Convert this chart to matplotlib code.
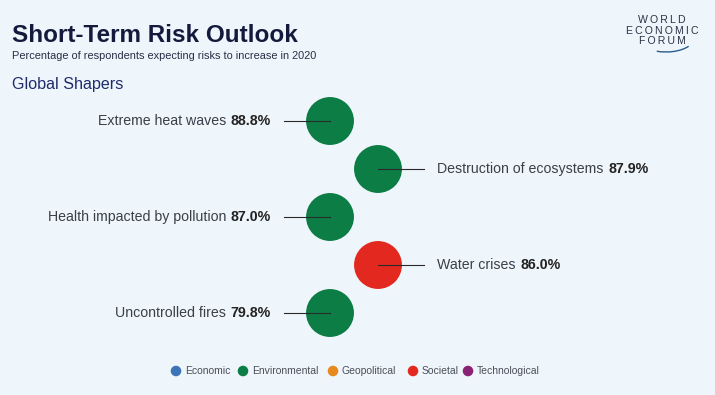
#Import libraries
import matplotlib
matplotlib.use('Agg')
import matplotlib.pyplot as plt
from matplotlib.patches import Arc

#--------------------------Data------------------------------------------#
risks = ['Extreme heat waves', 'Destruction of ecosystems',
         'Health impacted by pollution', 'Water crises', 'Uncontrolled fires']
values = [88.8, 87.9, 87.0, 86.0, 79.8]
risk_cat = ['Environmental', 'Environmental', 'Environmental', 'Societal', 'Environmental']

categories = ['Economic', 'Environmental', 'Geopolitical', 'Societal', 'Technological']
cat_colors = ['#3C74B8', '#0B7D45', '#E8891E', '#E3291F', '#8B2275']

#--------------------------Style-----------------------------------------#
bg = '#EEF5FB'
navy = '#141A3C'
plt.rcParams['font.family'] = ['Liberation Sans', 'DejaVu Sans']

fig = plt.figure(figsize=(7.15, 3.95), dpi=100, facecolor=bg)
ax = fig.add_axes([0, 0, 1, 1])
ax.set_facecolor(bg)
ax.set_xlim(0, 715)
ax.set_ylim(395, 0)
ax.axis('off')

# titles
ax.text(12, 35, 'Short-Term Risk Outlook', fontsize=17.5, fontweight='bold',
        color=navy, va='center', ha='left')
ax.text(12, 56, 'Percentage of respondents expecting risks to increase in 2020',
        fontsize=7.9, color='#2A2F45', va='center', ha='left')
ax.text(12, 84, 'Global Shapers', fontsize=11.6, color='#1F2C6B',
        va='center', ha='left')

# WEF logo (letter-spaced with thin spaces)
for i, w in enumerate(['WORLD', 'ECONOMIC', 'FORUM']):
    ax.text(662, 20 + i * 10.5, '\u2009'.join(w), fontsize=7.6, color='#2B3245',
            ha='center', va='center')
ax.add_patch(Arc((666, 38), 56, 28, theta1=20, theta2=125,
                 color='#2B5C8A', lw=1.0))

#--------------------------Bubbles---------------------------------------#
col_x = [330, 378]
row_y0, row_dy = 121, 48
for i, (name, val, cat) in enumerate(zip(risks, values, risk_cat)):
    side = i % 2
    cx = col_x[side]
    cy = row_y0 + i * row_dy
    color = cat_colors[categories.index(cat)]
    ax.scatter([cx], [cy], s=1190, color=color, edgecolors='none', zorder=2)
    if side == 0:
        ax.plot([284, cx], [cy, cy], color='#2A2A2A', lw=0.8, zorder=3)
        v = ax.text(271, cy, f'{val:.1f}%', fontsize=10.2, fontweight='bold',
                    color='#222222', ha='right', va='center')
        ax.annotate(name, xy=(0, 0), xycoords=v, xytext=(-3.5, 0),
                    textcoords='offset points', fontsize=10.2, color='#3A3F4A',
                    ha='right', va='bottom')
    else:
        ax.plot([cx, 424], [cy, cy], color='#2A2A2A', lw=0.8, zorder=3)
        t = ax.text(437, cy, name, fontsize=10.2, color='#3A3F4A',
                    ha='left', va='center')
        ax.annotate(f'{val:.1f}%', xy=(1, 0), xycoords=t, xytext=(3.5, 0),
                    textcoords='offset points', fontsize=10.2, fontweight='bold',
                    color='#222222', ha='left', va='bottom')

#--------------------------Legend----------------------------------------#
leg_x = [176, 243, 333, 413, 468]
for x, c, col in zip(leg_x, categories, cat_colors):
    ax.scatter([x], [371], s=58, color=col, edgecolors='none')
    ax.text(x + 9, 371, c, fontsize=7.5, color='#4A4F5A', ha='left', va='center')

fig.savefig('out.png', dpi=100, facecolor=bg)
